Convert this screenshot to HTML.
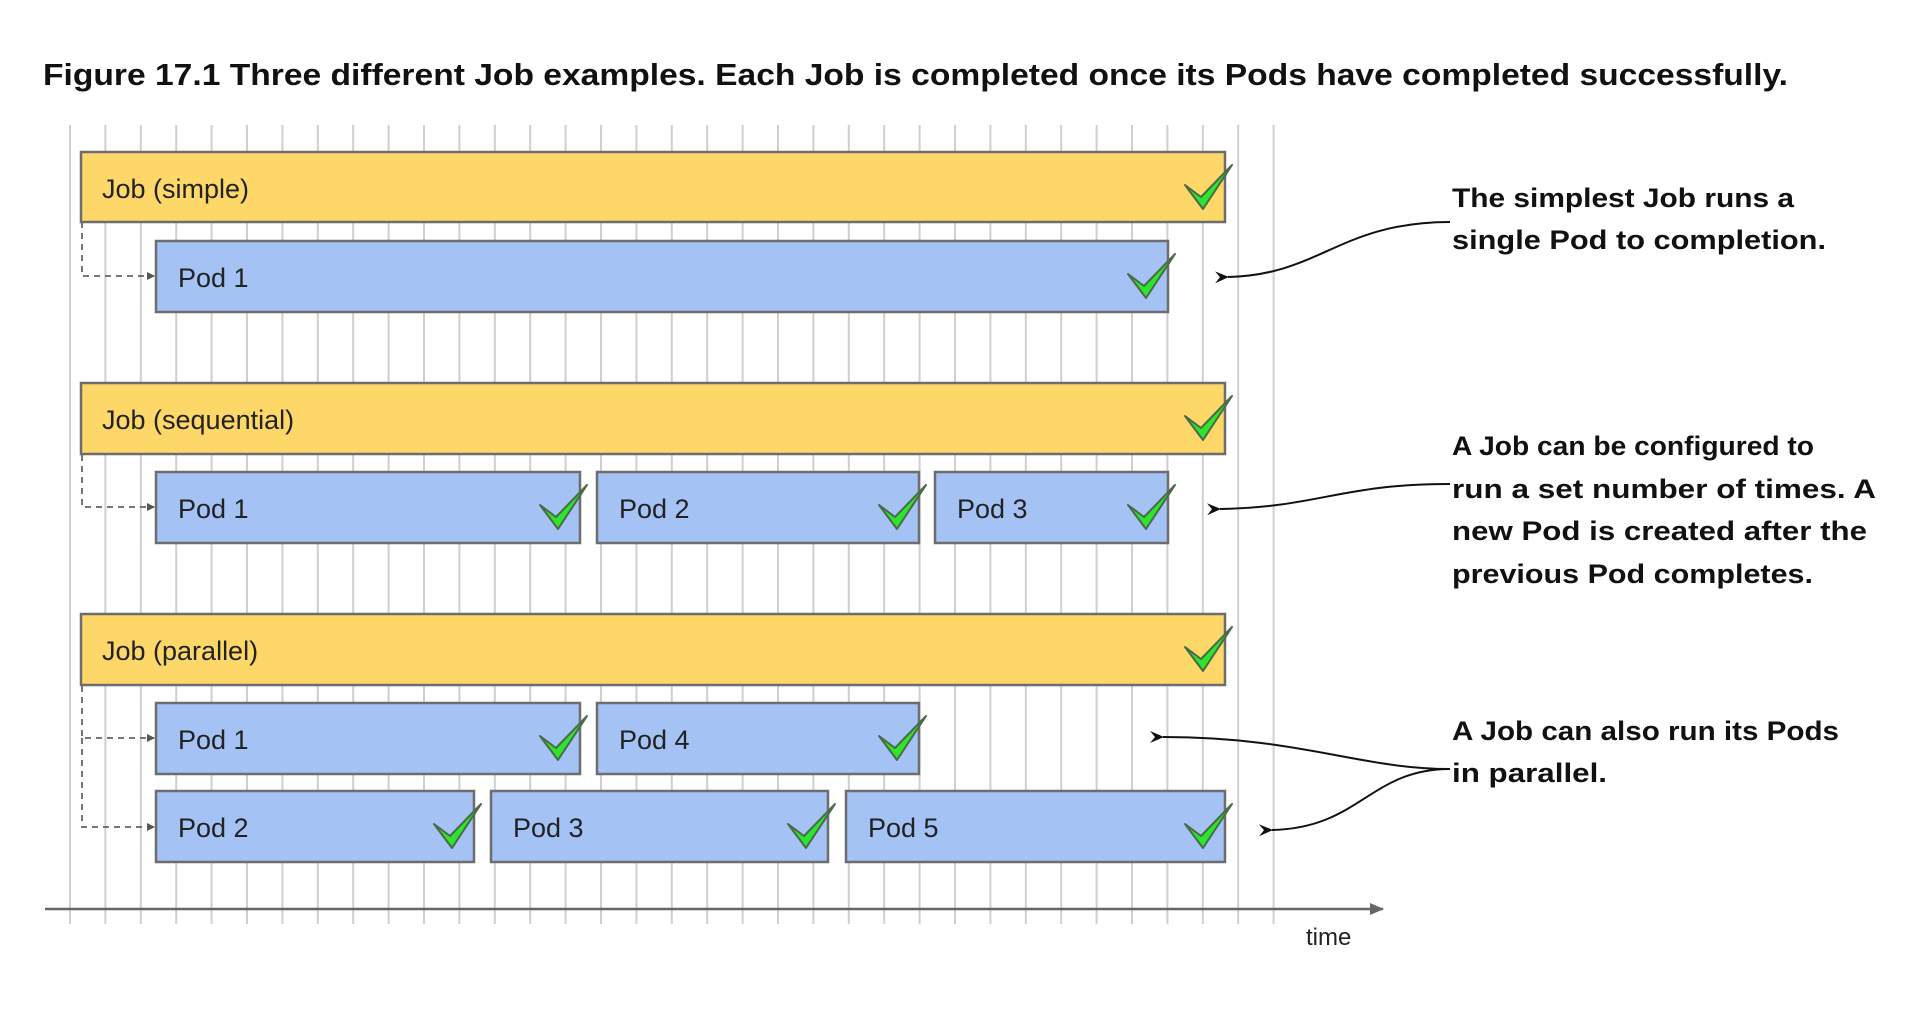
<!DOCTYPE html>
<html><head><meta charset="utf-8"><style>
html,body{margin:0;padding:0;background:#fff;}
svg{display:block;}
</style></head><body>
<svg width="1917" height="1030" viewBox="0 0 1917 1030" xmlns="http://www.w3.org/2000/svg">
<defs>
<marker id="ah" markerWidth="8" markerHeight="8" refX="7" refY="4" orient="auto" markerUnits="userSpaceOnUse"><path d="M0,0 L8,4 L0,8 Z" fill="#555"/></marker>
<marker id="ak" markerWidth="14" markerHeight="12" refX="1" refY="6" orient="auto" markerUnits="userSpaceOnUse"><path d="M14,0 L0,6 L14,12 L9,6 Z" fill="#111"/></marker>
<marker id="ax" markerWidth="14" markerHeight="12" refX="13" refY="6" orient="auto" markerUnits="userSpaceOnUse"><path d="M0,0 L14,6 L0,12 Z" fill="#666"/></marker>
</defs>
<text x="43" y="85" font-family="Liberation Sans, sans-serif" font-weight="bold" font-size="31" fill="#111" textLength="1745" lengthAdjust="spacingAndGlyphs">Figure 17.1 Three different Job examples. Each Job is completed once its Pods have completed successfully.</text>
<g stroke="#cfcfcf" stroke-width="2">
<line x1="70" y1="125" x2="70" y2="924"/><line x1="105.4" y1="125" x2="105.4" y2="924"/><line x1="140.8" y1="125" x2="140.8" y2="924"/><line x1="176.2" y1="125" x2="176.2" y2="924"/><line x1="211.6" y1="125" x2="211.6" y2="924"/><line x1="247" y1="125" x2="247" y2="924"/><line x1="282.4" y1="125" x2="282.4" y2="924"/><line x1="317.8" y1="125" x2="317.8" y2="924"/><line x1="353.2" y1="125" x2="353.2" y2="924"/><line x1="388.6" y1="125" x2="388.6" y2="924"/><line x1="424" y1="125" x2="424" y2="924"/><line x1="459.4" y1="125" x2="459.4" y2="924"/><line x1="494.8" y1="125" x2="494.8" y2="924"/><line x1="530.2" y1="125" x2="530.2" y2="924"/><line x1="565.6" y1="125" x2="565.6" y2="924"/><line x1="601" y1="125" x2="601" y2="924"/><line x1="636.4" y1="125" x2="636.4" y2="924"/><line x1="671.8" y1="125" x2="671.8" y2="924"/><line x1="707.2" y1="125" x2="707.2" y2="924"/><line x1="742.6" y1="125" x2="742.6" y2="924"/><line x1="778" y1="125" x2="778" y2="924"/><line x1="813.4" y1="125" x2="813.4" y2="924"/><line x1="848.8" y1="125" x2="848.8" y2="924"/><line x1="884.2" y1="125" x2="884.2" y2="924"/><line x1="919.6" y1="125" x2="919.6" y2="924"/><line x1="955" y1="125" x2="955" y2="924"/><line x1="990.4" y1="125" x2="990.4" y2="924"/><line x1="1025.8" y1="125" x2="1025.8" y2="924"/><line x1="1061.2" y1="125" x2="1061.2" y2="924"/><line x1="1096.6" y1="125" x2="1096.6" y2="924"/><line x1="1132" y1="125" x2="1132" y2="924"/><line x1="1167.4" y1="125" x2="1167.4" y2="924"/><line x1="1202.8" y1="125" x2="1202.8" y2="924"/><line x1="1238.2" y1="125" x2="1238.2" y2="924"/><line x1="1273.6" y1="125" x2="1273.6" y2="924"/>
</g>
<line x1="45" y1="909" x2="1383" y2="909" stroke="#666" stroke-width="2.5" marker-end="url(#ax)"/>
<text x="1306" y="945" font-family="Liberation Sans, sans-serif" font-size="24" fill="#222">time</text>
<g stroke="#666" stroke-width="1.8" stroke-dasharray="6,5" fill="none">
<path d="M82,222 V276 H154" marker-end="url(#ah)"/>
<path d="M82,455 V507 H154" marker-end="url(#ah)"/>
<path d="M82,686 V738 H154" marker-end="url(#ah)"/>
<path d="M82,738 V827 H154" marker-end="url(#ah)"/>
</g>
<g stroke="#6d6d6d" stroke-width="2.5" fill="#222">
<rect x="81" y="152" width="1144" height="70" fill="#fdd868"/>
<rect x="156" y="241" width="1012" height="71" fill="#a4c2f4"/>
<rect x="81" y="383" width="1144" height="71" fill="#fdd868"/>
<rect x="156" y="472" width="424" height="71" fill="#a4c2f4"/>
<rect x="597" y="472" width="322" height="71" fill="#a4c2f4"/>
<rect x="935" y="472" width="233" height="71" fill="#a4c2f4"/>
<rect x="81" y="614" width="1144" height="71" fill="#fdd868"/>
<rect x="156" y="703" width="424" height="71" fill="#a4c2f4"/>
<rect x="597" y="703" width="322" height="71" fill="#a4c2f4"/>
<rect x="156" y="791" width="318" height="71" fill="#a4c2f4"/>
<rect x="491" y="791" width="337" height="71" fill="#a4c2f4"/>
<rect x="846" y="791" width="379" height="71" fill="#a4c2f4"/>
</g>
<g font-family="Liberation Sans, sans-serif" font-size="27" fill="#222">
<text x="102" y="198">Job (simple)</text>
<text x="178" y="287">Pod 1</text>
<text x="102" y="429">Job (sequential)</text>
<text x="178" y="518">Pod 1</text>
<text x="619" y="518">Pod 2</text>
<text x="957" y="518">Pod 3</text>
<text x="102" y="660">Job (parallel)</text>
<text x="178" y="749">Pod 1</text>
<text x="619" y="749">Pod 4</text>
<text x="178" y="837">Pod 2</text>
<text x="513" y="837">Pod 3</text>
<text x="868" y="837">Pod 5</text>
</g>
<g fill="#2de52d" stroke="#4a6a4a" stroke-width="2" stroke-linejoin="round">
<path d="M1185,185 L1203,209 L1232,165 L1201,197 Z"/>
<path d="M1128,274 L1146,298 L1175,254 L1144,286 Z"/>
<path d="M1185,416 L1203,440 L1232,396 L1201,428 Z"/>
<path d="M540,505 L558,529 L587,485 L556,517 Z"/>
<path d="M879,505 L897,529 L926,485 L895,517 Z"/>
<path d="M1128,505 L1146,529 L1175,485 L1144,517 Z"/>
<path d="M1185,647 L1203,671 L1232,627 L1201,659 Z"/>
<path d="M540,736 L558,760 L587,716 L556,748 Z"/>
<path d="M879,736 L897,760 L926,716 L895,748 Z"/>
<path d="M434,824 L452,848 L481,804 L450,836 Z"/>
<path d="M788,824 L806,848 L835,804 L804,836 Z"/>
<path d="M1185,824 L1203,848 L1232,804 L1201,836 Z"/>
</g>
<g stroke="#111" stroke-width="2" fill="none">
<path d="M1450,222 C1340,222 1320,275 1228,277" marker-end="url(#ak)"/>
<path d="M1450,484 C1340,484 1320,507 1220,509" marker-end="url(#ak)"/>
<path d="M1450,769 C1360,769 1300,737 1163,737" marker-end="url(#ak)"/>
<path d="M1450,769 C1370,769 1360,828 1272,830" marker-end="url(#ak)"/>
</g>
<g font-family="Liberation Sans, sans-serif" font-weight="bold" font-size="27" fill="#111">
<text x="1452" y="207" textLength="342" lengthAdjust="spacingAndGlyphs">The simplest Job runs a</text>
<text x="1452" y="249" textLength="374" lengthAdjust="spacingAndGlyphs">single Pod to completion.</text>
<text x="1452" y="455" textLength="362" lengthAdjust="spacingAndGlyphs">A Job can be configured to</text>
<text x="1452" y="498" textLength="424" lengthAdjust="spacingAndGlyphs">run a set number of times. A</text>
<text x="1452" y="540" textLength="415" lengthAdjust="spacingAndGlyphs">new Pod is created after the</text>
<text x="1452" y="583" textLength="361" lengthAdjust="spacingAndGlyphs">previous Pod completes.</text>
<text x="1452" y="740" textLength="387" lengthAdjust="spacingAndGlyphs">A Job can also run its Pods</text>
<text x="1452" y="782" textLength="155" lengthAdjust="spacingAndGlyphs">in parallel.</text>
</g>
</svg>
</body></html>
